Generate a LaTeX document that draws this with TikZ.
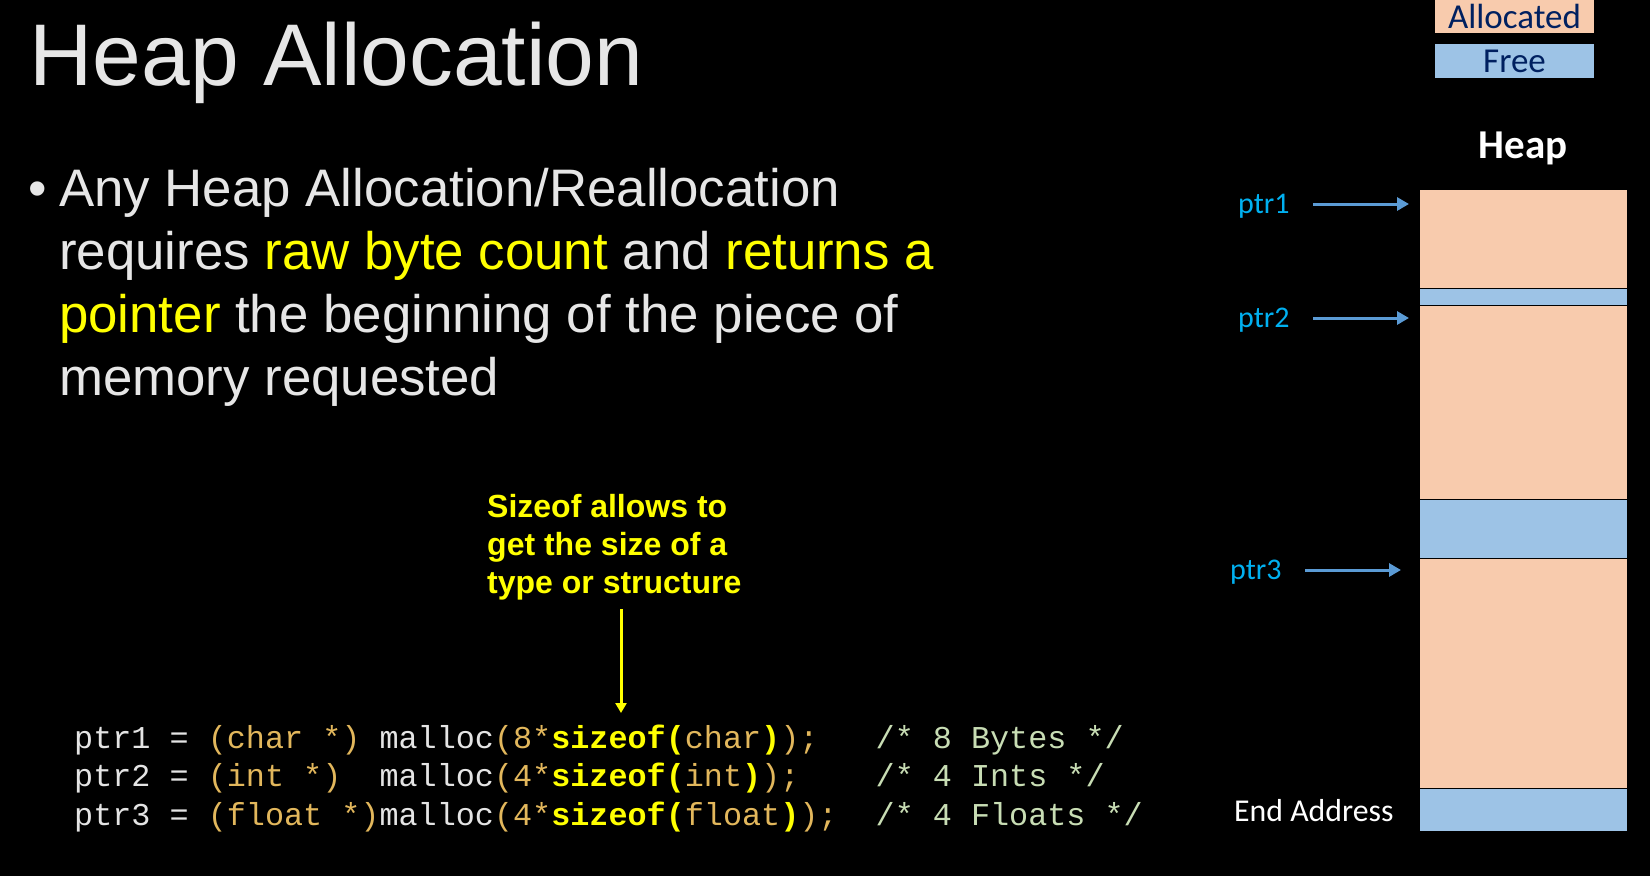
\documentclass[tikz,border=0pt]{standalone}
\usepackage{fontspec}
\setmainfont{Liberation Sans}
\newfontfamily\calibri{Carlito}
\newfontfamily\codefont{Liberation Mono}
\usetikzlibrary{arrows.meta}

\definecolor{allocfill}{HTML}{F8CBAD}
\definecolor{freefill}{HTML}{9DC3E6}
\definecolor{legendnavy}{HTML}{002060}
\definecolor{ptrblue}{HTML}{00B0F0}
\definecolor{arrowblue}{HTML}{5B9BD5}
\definecolor{slidegray}{HTML}{E6E6E6}
\definecolor{hiyellow}{HTML}{FFFF00}
\definecolor{codegold}{HTML}{E2B75C}
\definecolor{codegreen}{HTML}{C8DDB4}
\definecolor{codewhite}{HTML}{E4E4E4}

% colour helpers for the code listing
\newcommand\codeW[1]{{\color{codewhite}#1}}
\newcommand\codeG[1]{{\color{codegold}#1}}
\newcommand\codeY[1]{{\color{hiyellow}\bfseries #1}}
\newcommand\codeC[1]{{\color{codegreen}#1}}

\tikzset{
  txt/.style={inner sep=0pt, anchor=base west},
  bodytext/.style={txt, text=slidegray, font=\fontsize{52.8}{63}\selectfont},
  notetext/.style={txt, text=hiyellow, font=\bfseries\fontsize{32}{38}\selectfont},
  codeline/.style={txt, font=\codefont\fontsize{31.8}{38}\selectfont},
  heapblock/.style={draw=black, line width=1.4pt, minimum width=208pt, inner sep=0pt, anchor=north west},
  allocblock/.style={heapblock, fill=allocfill},
  freeblock/.style={heapblock, fill=freefill},
  legendbox/.style={inner sep=0pt, minimum width=159pt, anchor=north west},
  legendtext/.style={txt, anchor=base, text=legendnavy, font=\calibri\fontsize{35}{40}\selectfont},
  ptrlabel/.style={txt, text=ptrblue, font=\calibri\fontsize{30}{36}\selectfont},
  ptrarrow/.style={draw=arrowblue, line width=3pt, -{Triangle[length=12pt,width=13pt]}},
  notearrow/.style={draw=hiyellow, line width=3pt, -{Triangle[length=10pt,width=11pt]}},
}

\begin{document}
\begin{tikzpicture}[x=1pt, y=-1pt]
  \fill[black] (0,0) rectangle (1650,876);
  \useasboundingbox (0,0) rectangle (1650,876);

  % title and bullet text
  \node[txt, text=slidegray, font=\fontsize{87.6}{88}\selectfont] (title) at (29.5,85) {Heap Allocation};
  \node[bodytext] (bullet) at (28,206) {\textbullet};
  \node[bodytext] (l1) at (59,206) {Any Heap Allocation/Reallocation};
  \node[bodytext] (l2) at (59,269) {requires {\color{hiyellow}raw byte count} and {\color{hiyellow}returns a}};
  \node[bodytext] (l3) at (59,332) {{\color{hiyellow}pointer} the beginning of the piece of};
  \node[bodytext] (l4) at (59,395) {memory requested};

  % annotation about sizeof
  \node[notetext] (note1) at (487,517) {Sizeof allows to};
  \node[notetext] (note2) at (487,555) {get the size of a};
  \node[notetext] (note3) at (487,593) {type or structure};
  \coordinate (notefoot) at (621,609);
  \coordinate (sizeoftop) at (621,713);
  \draw[notearrow] (notefoot) -- (sizeoftop);

  % code listing
  \node[codeline] (code1) at (74,748) {\codeW{ptr1~=~}\codeG{(char~*)}\codeW{~malloc}\codeG{(8*}\codeY{sizeof(}\codeG{char}\codeY{)}\codeG{);}~~~\codeC{/*~8~Bytes~*/}};
  \node[codeline] (code2) at (74,786) {\codeW{ptr2~=~}\codeG{(int~*)}~~\codeW{malloc}\codeG{(4*}\codeY{sizeof(}\codeG{int}\codeY{)}\codeG{);}~~~~\codeC{/*~4~Ints~*/}};
  \node[codeline] (code3) at (74,825) {\codeW{ptr3~=~}\codeG{(float~*)}\codeW{malloc}\codeG{(4*}\codeY{sizeof(}\codeG{float}\codeY{)}\codeG{);}~~\codeC{/*~4~Floats~*/}};

  % legend
  \node[legendbox, fill=allocfill, minimum height=34pt] (legalloc) at (1435,-1) {};
  \node[legendtext] (legalloctxt) at (1514.5,28) {Allocated};
  \node[legendbox, fill=freefill, minimum height=34pt] (legfree) at (1435,44) {};
  \node[legendtext] (legfreetxt) at (1514.5,72) {Free};

  % heap column
  \node[txt, anchor=base, text=white, font=\calibri\bfseries\fontsize{41}{46}\selectfont] (heaptitle) at (1523,158) {Heap};
  \node[allocblock, minimum height=99pt] (a1) at (1419,189) {};
  \node[freeblock, minimum height=17pt] (f1) at (1419,288) {};
  \node[allocblock, minimum height=194pt] (a2) at (1419,305) {};
  \node[freeblock, minimum height=59pt] (f2) at (1419,499) {};
  \node[allocblock, minimum height=230pt] (a3) at (1419,558) {};
  \node[freeblock, minimum height=43pt] (f3) at (1419,788) {};

  % pointers into the heap
  \node[ptrlabel] (p1) at (1238,213) {ptr1};
  \node[ptrlabel] (p2) at (1238,327) {ptr2};
  \node[ptrlabel] (p3) at (1230,579) {ptr3};
  \coordinate (t1) at (1313,204);
  \coordinate (t2) at (1313,318);
  \coordinate (t3) at (1305,570);
  \draw[ptrarrow, shorten >=10pt] (t1) -- (t1 -| a1.west);
  \draw[ptrarrow, shorten >=10pt] (t2) -- (t2 -| a2.west);
  \draw[ptrarrow, shorten >=18pt] (t3) -- (t3 -| a3.west);

  \node[txt, text=white, font=\calibri\fontsize{31.8}{38}\selectfont] (endaddr) at (1234,821) {End Address};
\end{tikzpicture}
\end{document}
